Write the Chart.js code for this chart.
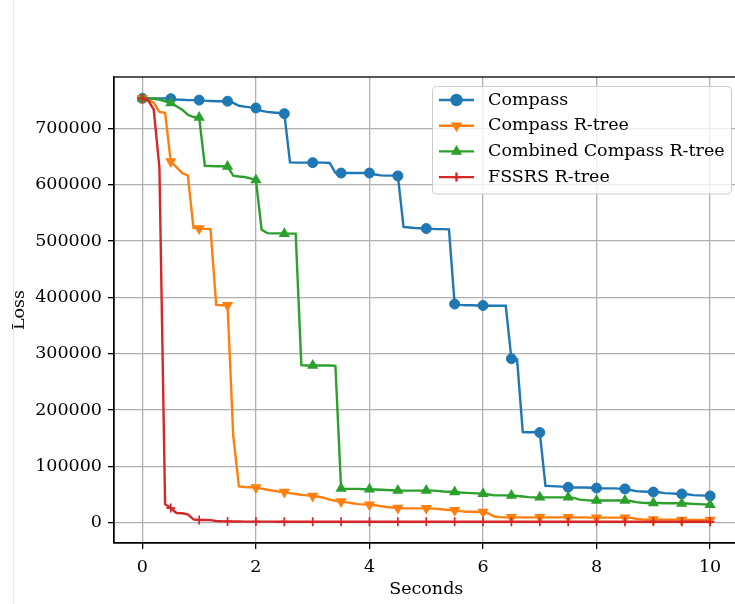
<!DOCTYPE html>
<html>
<head>
<meta charset="utf-8">
<script src="https://cdn.jsdelivr.net/npm/chart.js@4.4.0/dist/chart.umd.min.js"></script>
<style>
html, body { margin: 0; padding: 0; background: #fff; overflow: hidden; }
#wrap { position: relative; width: 745px; height: 604px; }
#edge { position: absolute; left: 13px; top: 0; width: 1px; height: 604px; background: #e6e6e6; }
canvas { display: block; }
</style>
</head>
<body>
<div id="wrap">
  <div id="edge"></div>
  <canvas id="lossChart" width="745" height="604"></canvas>
</div>
<script>
// sample times (seconds)
const times = [
  0, 0.1, 0.2, 0.3, 0.4, 0.5, 0.6, 0.7, 0.8, 0.9,
  1, 1.1, 1.2, 1.3, 1.4, 1.5, 1.6, 1.7, 1.8, 1.9,
  2, 2.1, 2.2, 2.3, 2.4, 2.5, 2.6, 2.7, 2.8, 2.9,
  3, 3.1, 3.2, 3.3, 3.4, 3.5, 3.6, 3.7, 3.8, 3.9,
  4, 4.1, 4.2, 4.3, 4.4, 4.5, 4.6, 4.7, 4.8, 4.9,
  5, 5.1, 5.2, 5.3, 5.4, 5.5, 5.6, 5.7, 5.8, 5.9,
  6, 6.1, 6.2, 6.3, 6.4, 6.5, 6.6, 6.7, 6.8, 6.9,
  7, 7.1, 7.2, 7.3, 7.4, 7.5, 7.6, 7.7, 7.8, 7.9,
  8, 8.1, 8.2, 8.3, 8.4, 8.5, 8.6, 8.7, 8.8, 8.9,
  9, 9.1, 9.2, 9.3, 9.4, 9.5, 9.6, 9.7, 9.8, 9.9,
  10
];

const compass = [
  753000, 753000, 753000, 753000, 753000, 752500, 751000, 750500, 750000, 750000,
  750000, 749000, 748500, 748000, 748000, 748000, 745000, 740000, 738500, 737000,
  736000, 731000, 729000, 728000, 727000, 726000, 639500, 639000, 639000, 639000,
  639000, 639000, 639000, 638500, 621000, 620500, 620500, 620500, 620500, 620500,
  620500, 618000, 616500, 616000, 616000, 615500, 525000, 524000, 523000, 522500,
  522000, 521500, 521000, 521000, 520500, 388000, 386500, 386000, 386000, 385500,
  385500, 385000, 385000, 385000, 385000, 291000, 290000, 161000, 160500, 160500,
  160000, 65500, 65000, 64500, 64000, 63000, 62500, 62500, 62500, 62000,
  61500, 61000, 61000, 61000, 60500, 60000, 58000, 56000, 55500, 55000,
  54500, 54000, 52500, 52000, 51500, 51000, 50500, 49000, 48500, 48000,
  47500
];

const compassRtree = [
  753000, 751000, 745000, 729000, 727500, 641000, 631000, 620500, 616500, 523000,
  522000, 521500, 521000, 386500, 386000, 386000, 155000, 64500, 63500, 63000,
  62500, 60500, 58500, 57000, 55500, 54500, 52500, 51000, 49500, 48500,
  47500, 46000, 44000, 41000, 39000, 37500, 36000, 34500, 33000, 32500,
  32000, 31000, 29500, 28000, 27000, 26000, 25500, 25500, 25500, 25500,
  25500, 25000, 24500, 23500, 22500, 22000, 20500, 19500, 19500, 19000,
  19000, 16000, 11000, 10000, 9500, 9500, 9500, 9500, 9500, 9500,
  9500, 9500, 9500, 9500, 9500, 9500, 9500, 9500, 9500, 9000,
  9000, 9000, 9000, 9000, 9000, 9000, 8500, 7000, 6000, 5500,
  5500, 5500, 5500, 5500, 5500, 5000, 5000, 5000, 5000, 5000,
  5000
];

const combinedRtree = [
  753000, 753000, 752500, 751000, 748000, 745000, 739000, 733000, 724000, 720000,
  719000, 633500, 633000, 632500, 632500, 632000, 616000, 614500, 613500, 611000,
  608000, 520000, 514000, 513500, 513500, 513000, 513000, 513000, 279500, 279000,
  279000, 279000, 279000, 279000, 278500, 60500, 60000, 60000, 60000, 59500,
  59500, 59000, 58500, 58000, 57500, 57000, 57000, 57000, 57000, 57000,
  57000, 57000, 56500, 55500, 55000, 54500, 53500, 53000, 52500, 52000,
  51500, 50000, 48500, 48500, 48500, 48500, 47500, 46500, 45500, 45000,
  45000, 45000, 45000, 45000, 45000, 45000, 44000, 41000, 40000, 39500,
  39500, 39500, 39500, 39500, 39500, 39500, 38500, 36500, 35500, 35000,
  35000, 35000, 34500, 34500, 34500, 34300, 34000, 33500, 33000, 32500,
  32000
];

const fssrsRtree = [
  753000, 750000, 733000, 630000, 33000, 26000, 17200, 16800, 15000, 6000,
  4800, 4700, 4600, 3000, 2500, 2300, 2200, 2100, 2000, 2000,
  2000, 1900, 1900, 1900, 1800, 1800, 1800, 1800, 1700, 1700,
  1700, 1700, 1700, 1700, 1700, 1700, 1700, 1700, 1700, 1700,
  1700, 1700, 1700, 1700, 1700, 1700, 1700, 1700, 1700, 1700,
  1700, 1700, 1700, 1700, 1700, 1700, 1700, 1700, 1700, 1700,
  1700, 1700, 1700, 1700, 1700, 1700, 1700, 1700, 1700, 1700,
  1700, 1700, 1700, 1700, 1700, 1700, 1600, 1600, 1600, 1600,
  1600, 1600, 1600, 1600, 1600, 1600, 1600, 1600, 1600, 1600,
  1600, 1600, 1600, 1600, 1600, 1600, 1600, 1600, 1600, 1600,
  1600
];

const seriesNames = ['Compass', 'Compass R-tree', 'Combined Compass R-tree', 'FSSRS R-tree'];
const seriesValues = [compass, compassRtree, combinedRtree, fssrsRtree];

const colors = ['#1f77b4', '#ff7f0e', '#2ca02c', '#d62728'];
const markers = [
  { style: 'circle', radius: 5, rotation: 0, width: 1 },
  { style: 'triangle', radius: 6.5, rotation: 180, width: 0 },
  { style: 'triangle', radius: 6.5, rotation: 0, width: 0 },
  { style: 'cross', radius: 4.5, rotation: 0, width: 1.7 }
];

Chart.defaults.font.family = "'DejaVu Serif'";
Chart.defaults.font.size = 17.5;
Chart.defaults.color = '#000';

const toPoints = vals => vals.map((v, i) => ({ x: times[i], y: v }));

const datasets = seriesValues.map((vals, i) => ({
  label: seriesNames[i],
  data: toPoints(vals),
  borderColor: colors[i],
  backgroundColor: colors[i],
  borderWidth: 2.4,
  tension: 0,
  pointStyle: markers[i].style,
  pointRotation: markers[i].rotation,
  pointBorderWidth: markers[i].width,
  pointRadius: ctx => ctx.dataIndex % 5 === 0 ? markers[i].radius : 0,
  pointHoverRadius: 0,
  order: 3 - i  // later series drawn on top, like matplotlib
}));

// black frame round the plot area
const frame = {
  id: 'frame',
  afterDatasetsDraw(chart) {
    const { ctx, chartArea: a } = chart;
    ctx.save();
    ctx.strokeStyle = '#000';
    ctx.lineWidth = 1.3;
    ctx.strokeRect(a.left, a.top, a.right - a.left, a.bottom - a.top);
    ctx.restore();
  }
};

// matplotlib style legend: line sample with marker, inside a rounded box
const legendBox = {
  id: 'legendBox',
  afterDraw(chart) {
    const ctx = chart.ctx;
    const x0 = 432.5, y0 = 86.5, w = 299, h = 107.5;
    ctx.save();
    ctx.beginPath();
    ctx.roundRect(x0, y0, w, h, 4);
    ctx.fillStyle = 'rgba(255,255,255,0.8)';
    ctx.fill();
    ctx.strokeStyle = '#cccccc';
    ctx.lineWidth = 1;
    ctx.stroke();

    chart.data.datasets.forEach((ds, i) => {
      const y = 100 + i * 25.7;
      ctx.strokeStyle = ds.borderColor;
      ctx.fillStyle = ds.backgroundColor;
      ctx.lineWidth = 2.4;
      ctx.beginPath();
      ctx.moveTo(439, y);
      ctx.lineTo(474, y);
      ctx.stroke();
      Chart.helpers.drawPoint(ctx, {
        pointStyle: markers[i].style,
        radius: markers[i].radius,
        rotation: markers[i].rotation,
        borderWidth: markers[i].width
      }, 456.5, y);
      ctx.fillStyle = '#000';
      ctx.font = "17.5px 'DejaVu Serif'";
      ctx.textBaseline = 'middle';
      ctx.textAlign = 'left';
      ctx.fillText(ds.label, 488, y);
    });
    ctx.restore();
  }
};

new Chart(document.getElementById('lossChart'), {
  type: 'line',
  data: { datasets: datasets },
  options: {
    responsive: false,
    animation: false,
    layout: { padding: { top: 77, right: 5, left: 0, bottom: 0 } },
    plugins: { legend: { display: false }, tooltip: { enabled: false } },
    scales: {
      x: {
        type: 'linear',
        min: -0.5,
        max: 10.5,
        afterFit: s => { s.height = 61; },
        ticks: { stepSize: 2, includeBounds: false, padding: 8, maxRotation: 0 },
        grid: { color: '#b0b0b0', lineWidth: 1.3, tickLength: 6, tickColor: '#000', tickWidth: 1.3 },
        border: { color: '#000', width: 1.3 },
        title: { display: true, text: 'Seconds', padding: { top: 0, bottom: 4 } }
      },
      y: {
        type: 'linear',
        min: -36000,
        max: 791000,
        afterFit: s => { s.width = 114; },
        ticks: { includeBounds: false, padding: 6, callback: v => String(v) },
        grid: { color: '#b0b0b0', lineWidth: 1.3, tickLength: 6, tickColor: '#000', tickWidth: 1.3 },
        border: { color: '#000', width: 1.3 },
        title: { display: true, text: 'Loss', padding: { top: 9, bottom: 0 } }
      }
    }
  },
  plugins: [frame, legendBox]
});
</script>
</body>
</html>
